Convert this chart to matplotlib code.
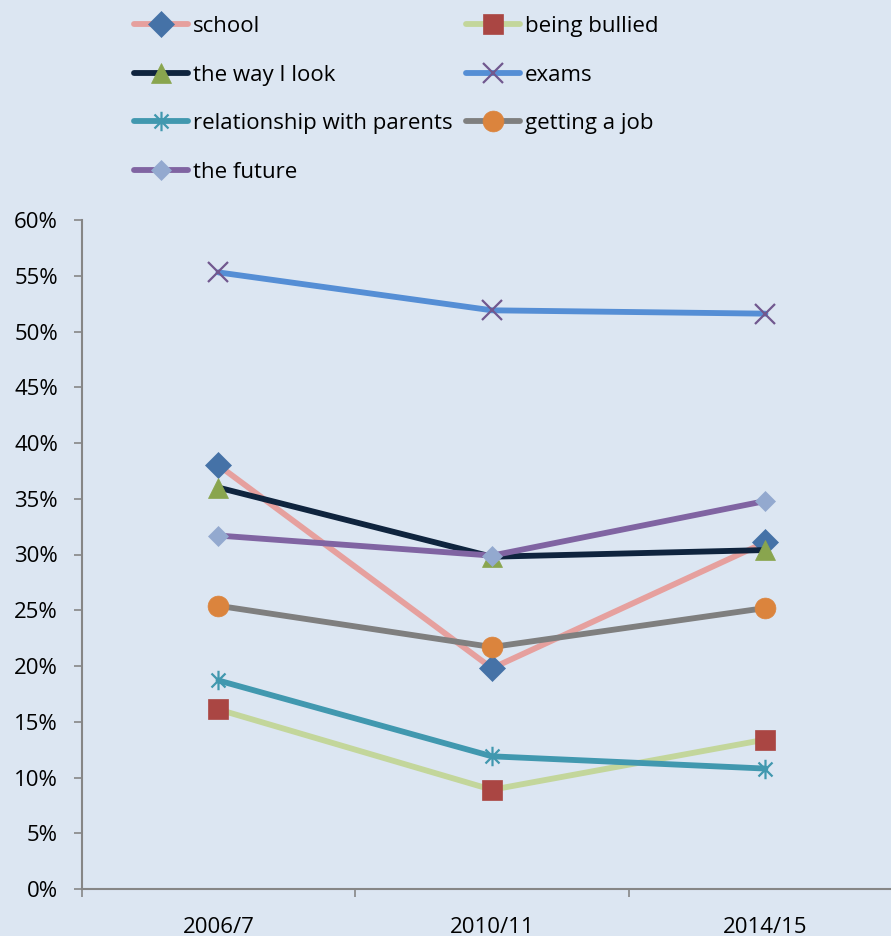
import matplotlib
matplotlib.use("Agg")
import matplotlib.pyplot as plt
from matplotlib.path import Path
from matplotlib.ticker import PercentFormatter, FixedLocator

years = ["2006/7", "2010/11", "2014/15"]

school = [38.0, 19.8, 31.1]
bullied = [16.1, 8.9, 13.4]
look = [36.0, 29.8, 30.4]
exams = [55.3, 51.9, 51.6]
parents = [18.7, 11.9, 10.8]
job = [25.4, 21.7, 25.2]
future = [31.7, 29.9, 34.8]

# Excel style asterisk: vertical bar plus an X
star = Path([(0, -1), (0, 1), (-0.72, -0.72), (0.72, 0.72), (-0.72, 0.72), (0.72, -0.72)],
            [Path.MOVETO, Path.LINETO, Path.MOVETO, Path.LINETO, Path.MOVETO, Path.LINETO])

# label, values, line colour, marker, marker colour, marker size
series = [
    ("school", school, "#e6a09e", "D", "#4572a7", 13),
    ("the way I look", look, "#0f243e", "^", "#89a54e", 15),
    ("relationship with parents", parents, "#4198af", star, "#4198af", 14),
    ("the future", future, "#8064a2", "D", "#93a9cf", 10),
    ("being bullied", bullied, "#c3d69b", "s", "#aa4643", 14),
    ("exams", exams, "#558ed5", "x", "#71588f", 14),
    ("getting a job", job, "#7f7f7f", "o", "#db843d", 15),
]
draw_order = ["school", "being bullied", "the way I look", "exams",
              "relationship with parents", "getting a job", "the future"]

bg = "#dce6f2"
fs = 16
plt.rcParams["font.family"] = ["Open Sans", "DejaVu Sans"]

fig = plt.figure(figsize=(8.91, 9.36), dpi=100, facecolor=bg)
ax = fig.add_axes([81.7 / 891, 47 / 936, 820.5 / 891, 669 / 936], facecolor=bg)

x = list(range(len(years)))
handles = {}
for name in draw_order:
    lab, vals, lc, mk, mc, ms = [s for s in series if s[0] == name][0]
    line_like = mk in ("x",) or mk is star
    h, = ax.plot(x, vals, color=lc, lw=4.2, solid_capstyle="round",
                 marker=mk, markersize=ms,
                 markerfacecolor="none" if line_like else mc,
                 markeredgecolor=mc, markeredgewidth=1.6 if line_like else 0.5,
                 label=lab, zorder=3)
    handles[lab] = h

ax.set_xlim(-0.5, 2.5)
ax.set_ylim(0, 60)
ax.yaxis.set_major_locator(FixedLocator(range(0, 61, 5)))
ax.yaxis.set_major_formatter(PercentFormatter(decimals=0))
ax.set_xticks(x)
ax.set_xticklabels(years)
ax.set_xticks([-0.5, 0.5, 1.5], minor=True)

for side in ("top", "right"):
    ax.spines[side].set_visible(False)
for side in ("left", "bottom"):
    ax.spines[side].set_color("#868686")
    ax.spines[side].set_linewidth(1.5)

ax.tick_params(axis="y", length=6, width=1.2, color="#868686", pad=11,
               labelsize=fs, labelcolor="black")
ax.tick_params(axis="x", which="major", length=0, pad=20, labelsize=fs)
ax.tick_params(axis="x", which="minor", length=6, width=1.2, color="#868686")

leg_order = [s[0] for s in series]
fig.legend([handles[k] for k in leg_order], leg_order, ncol=2,
           loc="upper left", bbox_to_anchor=(118 / 891, 1.0),
           frameon=False, fontsize=fs, handlelength=2.45, handletextpad=0.2,
           columnspacing=0.6, labelspacing=1.24, borderaxespad=0.32)

fig.savefig("out.png", dpi=100, facecolor=bg)
